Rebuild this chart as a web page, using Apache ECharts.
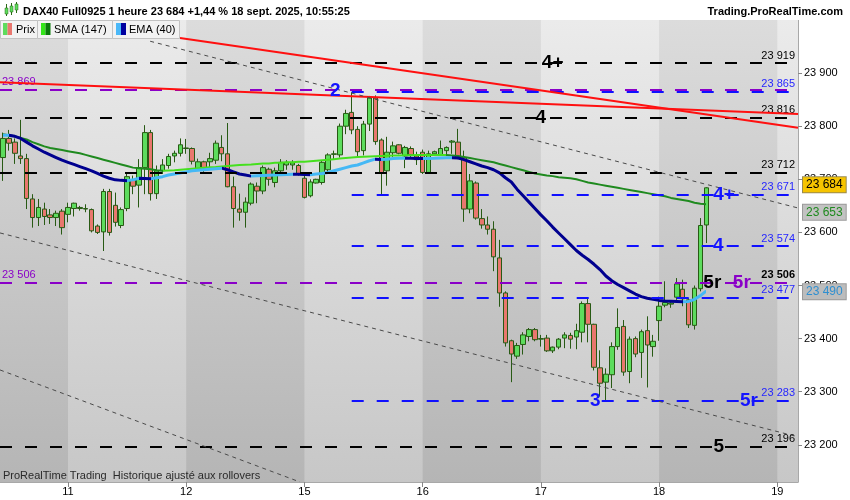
<!DOCTYPE html>
<html><head><meta charset="utf-8">
<script src="https://cdn.jsdelivr.net/npm/echarts@6/dist/echarts.min.js"></script>
<style>html,body{margin:0;padding:0;background:#fff}#c{width:850px;height:500px}</style>
</head><body><div id="c"></div>
<script>
// ---------- data ----------
const days = [10, 11, 12, 15, 16, 17, 18, 19];
const barsPerDay = [11, 20, 20, 20, 20, 20, 20, 4];
const opens = [23741,23777,23770,23744,23739,23663,23628,23644,23633,23628,23640,
 23634,23645,23645,23644,23643,23612,23601,23677,23651,23613,23645,23699,23689,23722,23788,23673,23716,23726,23744,23749,
 23758,23758,23720,23733,23733,23736,23760,23748,23686,23644,23638,23655,23687,23678,23719,23694,23716,23727,23727,23726,
 23702,23669,23693,23694,23718,23747,23746,23800,23826,23794,23754,23804,23853,23774,23716,23750,23765,23744,23758,23744,
 23751,23713,23748,23746,23754,23770,23770,23741,23644,23693,23626,23614,23606,23552,23486,23396,23367,23389,23404,23417,
 23399,23401,23377,23384,23401,23406,23403,23412,23466,23427,23345,23318,23332,23385,23423,23338,23400,23374,23415,23385,
 23434,23463,23465,23478,23493,23473,23425,23494,23614];
const closes = [23777,23768,23749,23739,23664,23628,23647,23630,23628,23636,23609,
 23647,23655,23647,23645,23603,23600,23677,23600,23619,23643,23705,23687,23722,23788,23673,23716,23727,23743,23749,23765,
 23759,23734,23733,23721,23739,23768,23748,23686,23645,23638,23657,23691,23678,23722,23700,23716,23732,23732,23731,23710,
 23666,23695,23700,23732,23746,23748,23800,23824,23793,23752,23804,23853,23771,23712,23751,23763,23749,23760,23746,23737,
 23713,23748,23752,23758,23760,23772,23741,23644,23697,23627,23614,23606,23554,23486,23392,23371,23387,23407,23417,23398,
 23400,23377,23384,23399,23407,23399,23415,23466,23427,23346,23316,23333,23385,23421,23337,23399,23371,23413,23388,23395,
 23461,23468,23467,23503,23475,23426,23495,23613,23684];
const lows = [23697,23754,23729,23729,23644,23609,23612,23614,23616,23612,23596,
 23619,23630,23641,23638,23600,23597,23565,23594,23611,23608,23640,23672,23647,23672,23660,23663,23710,23720,23732,23743,
 23748,23728,23716,23714,23722,23729,23734,23685,23609,23622,23609,23651,23655,23672,23688,23685,23713,23718,23718,23707,
 23664,23666,23692,23690,23713,23738,23741,23785,23785,23741,23745,23791,23765,23671,23688,23742,23747,23721,23740,23727,
 23710,23712,23744,23744,23744,23748,23738,23620,23636,23624,23607,23596,23527,23460,23385,23318,23362,23370,23395,23395,
 23385,23375,23373,23380,23382,23381,23380,23393,23393,23340,23291,23284,23307,23379,23330,23316,23365,23326,23308,23366,
 23396,23459,23458,23473,23461,23420,23417,23489,23580];
const highs = [23788,23793,23777,23812,23748,23672,23663,23656,23644,23641,23644,
 23656,23656,23650,23653,23645,23615,23682,23682,23675,23647,23710,23707,23738,23802,23793,23726,23738,23748,23754,23777,
 23776,23760,23739,23735,23750,23773,23783,23806,23705,23673,23666,23694,23694,23726,23722,23722,23738,23736,23736,23729,
 23707,23700,23701,23735,23749,23754,23805,23831,23864,23800,23810,23857,23858,23777,23780,23771,23766,23763,23762,23752,
 23756,23754,23754,23773,23762,23774,23795,23754,23710,23696,23644,23630,23621,23586,23489,23398,23392,23412,23420,23420,
 23407,23407,23385,23401,23412,23411,23428,23470,23475,23428,23378,23344,23393,23457,23435,23404,23404,23417,23442,23407,
 23479,23508,23469,23514,23511,23476,23500,23627,23685];
const sma147 = [23785,23783,23781,23778,23775,23770,23766,23762,23759,23757,23755,23753,23751,23749,23746,23743,23740,23737,23734,23731,23728,23725,23722,
 23721,23720,23719,23717,23716,23716.5,23717,23718,23719,23720,23721,23722,23722.5,23723,23724,23725,23726,23727,23727.5,23728,23729,23730,
 23730,23731,23731,23732,23732,23733,23733,23734,23735,23736,23737,23738,23739,23740,23741,23742,23742.5,23743,23743.5,23744,23744.5,23745,
 23745,23745.5,23745.5,23746,23746,23746,23746,23746,23746,23745,
 23744,23742,23740,23738,23736,23734,23732,23729,23726,23723,23720,23717,23714,23711,23709,23707,23706,23704,23703,23702,23700,23697,23694,
 23692,23690,23688,23686,23684,23682,23680,23678,23676,23674,23672,23670,23668,23665,23663,23661,23659,23656,23654,23653];
const ema40 = [23783,23783,23781,23777,23770,23763,23757,23751,23746,23741,23736,23732,23728,23724,23720,23716,23711,23706,23702,23699,23698,23697.5,23699,
 23702,23701.5,23701,23703,23705,23708,23710,23712,23714,23716,23717,23718,23719,23720,23721,23718,23714,23710,23708,23706,23706.5,23707,
 23707.5,23708,23708.5,23709,23709.5,23709.3,23709,23708.8,23710,23711,23713,23716,23719,23722,23725,23727,23731,23735,23738,23737.5,23738,23739,
 23739.5,23739.8,23739.5,23739.2,23739,23739.3,23739.6,23740,23740.4,23740.8,23740,
 23737,23733,23729,23725,23722,23718,23712,23703,23695,23681,23669,23657,23645,23633,23622,23610,23599,23588,23577,23566,
 23557,23549,23540,23530,23518,23509,23502,23496,23490,23484,23479,23476,23474,
 23472,23471,23470.5,23470,23469.5,23470,23474,23481,23490];
const yMin = 23130, yMax = 24000;
const blackLevels = [23919, 23816, 23712, 23196];
const purpleLevels = [23869, 23506];
const blueLevels = [23865, 23671, 23574, 23477, 23283];
const blueLevelsFromBar = 59;
const redTrends = [[[-0.5, 23883], [134.5, 23823]], [[29.95, 23966], [134.5, 23797]]];
const dottedTrends = [[[24.9, 23960], [134.5, 23646]], [[-0.5, 23599], [134.5, 23215]], [[-0.5, 23341], [50.25, 23130]]];
const blackWaves = [['4+', 93.0, 23919], ['4', 91.0, 23816], ['5r', 120.0, 23506], ['5', 121.1, 23196]];
const blueWaves = [['2', 56.2, 23866], ['4+', 122.0, 23671], ['4', 121.0, 23574], ['3', 100.2, 23283], ['5r', 126.2, 23283]];
const purpleWaves = [['5r', 125.0, 23506]];

// ---------- derived ----------
const categories = [];
const dayStart = new Set();
const dayRanges = [];
days.forEach((d, k) => {
  const s = categories.length;
  if (s > 0) dayStart.add(s);
  for (let j = 0; j < barsPerDay[k]; j++) categories.push(d + '|' + j);
  dayRanges.push([s, categories.length]);
});
const nSlots = categories.length;
const xMax = nSlots - 0.5;
const candles = opens.map((o, i) => [o, closes[i], lows[i], highs[i]]);
const fmt = v => String(Math.round(v)).replace(/\B(?=(\d{3})+(?!\d))/g, ' ');
const FONT = '"Liberation Sans", Arial, sans-serif';
const CLEAR = 'rgba(0,0,0,0)';

function slopePieces(vals, up, down) {
  const pieces = []; let start = 0; let cur = null;
  for (let i = 0; i < vals.length - 1; i++) {
    const c = vals[i + 1] >= vals[i] ? up : down;
    if (cur === null) cur = c;
    if (c !== cur) { pieces.push({gte: start, lt: i, color: cur}); start = i; cur = c; }
  }
  pieces.push({gte: start, lte: vals.length - 1, color: cur});
  return pieces;
}

const BLACK = '#000000', BLUE = '#1010ff', PURPLE = '#8a00c8';
const dash = [12, 13];
function levelItem(v, x1, color, labelCfg) {
  return [{coord: [x1, v], lineStyle: {color: color, width: 2, type: dash}, label: labelCfg}, {coord: [xMax, v]}];
}
const rightLabel = (v, color, bold) => ({show: true, position: 'insideEndTop', formatter: fmt(v), color: color, fontSize: 11, fontFamily: FONT, fontWeight: bold ? 'bold' : 'normal', distance: [3, 2]});
const leftLabel = (v, color) => ({show: true, position: 'insideStartTop', formatter: fmt(v), color: color, fontSize: 11, fontFamily: FONT, distance: [2, 2]});

const levelData = [];
blackLevels.forEach(v => levelData.push(levelItem(v, -0.5, BLACK, rightLabel(v, '#000'))));
purpleLevels.forEach(v => levelData.push(levelItem(v, -0.5, PURPLE, leftLabel(v, PURPLE))));
blueLevels.forEach(v => levelData.push(levelItem(v, blueLevelsFromBar, BLUE, rightLabel(v, '#2626ff'))));
levelData.push([{coord: [-0.5, purpleLevels[1]], lineStyle: {color: CLEAR, width: 1}, label: rightLabel(purpleLevels[1], '#000', true)}, {coord: [xMax, purpleLevels[1]]}]);

const bandData = dayRanges.filter((r, k) => k % 2 === 1).map(r => [
  {xAxis: r[0], itemStyle: {color: new echarts.graphic.LinearGradient(0, 0, 0, 1, [{offset: 0, color: '#ebebeb'}, {offset: 1, color: '#c7c7c7'}])}},
  {xAxis: Math.min(r[1], xMax)}
]);

function waveSeries(list, color) {
  return {
    type: 'scatter', xAxisIndex: 1, yAxisIndex: 0, symbolSize: 1, z: 10, silent: true,
    itemStyle: {color: CLEAR},
    emphasis: {disabled: true},
    data: list.map(w => ({name: w[0], value: [w[1], w[2]]})),
    label: {show: true, position: 'inside', formatter: p => p.name, color: color, opacity: 1,
      textBorderWidth: 0, textBorderColor: CLEAR, textShadowBlur: 0,
      fontSize: 19, fontWeight: 'bold', fontFamily: FONT}
  };
}
function trendSeries(pts, color, width, type) {
  return {type: 'line', xAxisIndex: 1, yAxisIndex: 0, data: pts, symbol: 'none', silent: true, z: 6,
    lineStyle: {color: color, width: width, type: type}};
}
const tag = (v, bg, border, color, dy) => ({
  symbol: 'none', silent: true,
  lineStyle: {color: CLEAR, width: 1, type: 'solid'},
  data: [{yAxis: v, label: {show: true, position: 'end', distance: 5, formatter: fmt(v), backgroundColor: bg, borderColor: border, borderWidth: 1, padding: [2, 3, 1, 3], color: color, fontSize: 12, fontFamily: FONT, offset: [0, dy]}}]
});

const smaColors = slopePieces(sma147, '#45e01e', '#1f8a1f');
const emaColors = slopePieces(ema40, '#45b8f5', '#00008f');

const chart = echarts.init(document.getElementById('c'), null, {renderer: 'canvas'});
const option = {
  animation: false,
  backgroundColor: '#ffffff',
  textStyle: {fontFamily: FONT},
  grid: {left: 0, right: 52, top: 20, bottom: 18, containLabel: false, outerBoundsMode: 'none', show: true, borderWidth: 0,
    backgroundColor: new echarts.graphic.LinearGradient(0, 0, 0, 1, [{offset: 0, color: '#dcdcdc'}, {offset: 1, color: '#b5b5b5'}])},
  xAxis: [
    {type: 'category', data: categories, boundaryGap: true,
      axisLine: {show: true, onZero: false, lineStyle: {color: '#a8a8a8'}},
      axisTick: {show: true, interval: (i) => dayStart.has(i), alignWithLabel: true, length: 5, lineStyle: {color: '#888'}},
      axisLabel: {interval: (i) => dayStart.has(i), formatter: v => v.split('|')[0], color: '#000', fontSize: 11, margin: 4, fontFamily: FONT},
      splitLine: {show: false}},
    {type: 'value', min: -0.5, max: xMax, show: false, axisLine: {onZero: false}, splitLine: {show: false}}
  ],
  yAxis: [{type: 'value', position: 'right', min: yMin, max: yMax, splitNumber: 9, scale: true,
    axisLine: {show: true, onZero: false, lineStyle: {color: '#a8a8a8'}},
    axisTick: {show: true, length: 4, lineStyle: {color: '#888'}},
    axisLabel: {formatter: fmt, color: '#000', fontSize: 11, margin: 6, showMinLabel: false, showMaxLabel: false, fontFamily: FONT},
    splitLine: {show: false}}],
  visualMap: [
    {show: false, type: 'piecewise', seriesIndex: 2, dimension: 0, pieces: smaColors},
    {show: false, type: 'piecewise', seriesIndex: 3, dimension: 0, pieces: emaColors}
  ],
  series: [
    {type: 'line', xAxisIndex: 1, yAxisIndex: 0, data: [[xMax, yMin]], symbol: 'none', lineStyle: {width: 0}, silent: true, z: 1,
      markArea: {silent: true, data: bandData}},
    {type: 'candlestick', xAxisIndex: 0, yAxisIndex: 0, data: candles, barWidth: 5, z: 3,
      itemStyle: {color: '#5ddc5d', color0: '#e9776e', borderColor: '#285a14', borderColor0: '#285a14', borderWidth: 1},
      markLine: tag(closes[closes.length - 1], '#f6c400', '#9a8a50', '#000', -3)},
    {type: 'line', xAxisIndex: 1, yAxisIndex: 0, data: sma147.map((v, i) => [i, v]), symbol: 'none', z: 4, silent: true,
      lineStyle: {width: 2},
      markLine: tag(sma147[sma147.length - 1], '#c2c2c2', '#9a9a9a', '#1f8a1f', 8)},
    {type: 'line', xAxisIndex: 1, yAxisIndex: 0, data: ema40.map((v, i) => [i, v]), symbol: 'none', z: 4, silent: true,
      lineStyle: {width: 3},
      markLine: tag(ema40[ema40.length - 1], '#bcbcbc', '#9a9a9a', '#2f8fd0', 1)},
    {type: 'line', xAxisIndex: 1, yAxisIndex: 0, data: [[xMax, yMin]], symbol: 'none', lineStyle: {width: 0}, silent: true, z: 5,
      markLine: {symbol: 'none', silent: true, data: levelData}},
    ...redTrends.map(t => trendSeries(t, '#ff1010', 2, 'solid')),
    ...dottedTrends.map(t => trendSeries(t, '#4a4a4a', 1, [4, 4])),
    waveSeries(blackWaves, '#000000'),
    waveSeries(blueWaves, '#1414ff'),
    waveSeries(purpleWaves, PURPLE)
  ],
  graphic: [
    {type: 'rect', shape: {x: 0, y: 0, width: 850, height: 20}, style: {fill: '#ffffff'}, z: 100},
    {type: 'rect', shape: {x: 6, y: 4, width: 1, height: 12}, style: {fill: '#2a6a14'}, z: 101},
    {type: 'rect', shape: {x: 5, y: 8, width: 3, height: 6}, style: {fill: '#5ddc5d', stroke: '#2a6a14', lineWidth: 0.5}, z: 101},
    {type: 'rect', shape: {x: 11, y: 3, width: 1, height: 12}, style: {fill: '#2a6a14'}, z: 101},
    {type: 'rect', shape: {x: 10, y: 6, width: 3, height: 6}, style: {fill: '#5ddc5d', stroke: '#2a6a14', lineWidth: 0.5}, z: 101},
    {type: 'rect', shape: {x: 16, y: 2, width: 1, height: 11}, style: {fill: '#2a6a14'}, z: 101},
    {type: 'rect', shape: {x: 15, y: 4, width: 3, height: 6}, style: {fill: '#5ddc5d', stroke: '#2a6a14', lineWidth: 0.5}, z: 101},
    {type: 'text', z: 101, style: {x: 23, y: 12, text: 'DAX40 Full0925 1 heure 23 684 +1,44 % 18 sept. 2025, 10:55:25', font: 'bold 11px ' + FONT, fill: '#000', textAlign: 'left', align: 'left', textVerticalAlign: 'middle', verticalAlign: 'middle'}},
    {type: 'text', z: 101, style: {x: 843, y: 12, text: 'Trading.ProRealTime.com', font: 'bold 11px ' + FONT, fill: '#000', textAlign: 'right', align: 'right', textVerticalAlign: 'middle', verticalAlign: 'middle'}},
    {type: 'rect', z: 101, shape: {x: 0.5, y: 20.5, width: 37, height: 18}, style: {fill: '#f2f2f2', stroke: '#c2c2c2', lineWidth: 1}},
    {type: 'rect', z: 101, shape: {x: 37.5, y: 20.5, width: 75, height: 18}, style: {fill: '#f2f2f2', stroke: '#c2c2c2', lineWidth: 1}},
    {type: 'rect', z: 101, shape: {x: 112.5, y: 20.5, width: 67, height: 18}, style: {fill: '#f2f2f2', stroke: '#c2c2c2', lineWidth: 1}},
    {type: 'rect', z: 102, shape: {x: 3, y: 23, width: 4.5, height: 12}, style: {fill: '#5ddc5d'}},
    {type: 'rect', z: 102, shape: {x: 7.5, y: 23, width: 4.5, height: 12}, style: {fill: '#e9776e'}},
    {type: 'rect', z: 102, shape: {x: 41, y: 23, width: 4.5, height: 12}, style: {fill: '#33e619'}},
    {type: 'rect', z: 102, shape: {x: 45.5, y: 23, width: 5, height: 12}, style: {fill: '#0a7a0a'}},
    {type: 'rect', z: 102, shape: {x: 116, y: 23, width: 5, height: 12}, style: {fill: '#4ab8f8'}},
    {type: 'rect', z: 102, shape: {x: 121, y: 23, width: 5, height: 12}, style: {fill: '#0000a0'}},
    {type: 'text', z: 102, style: {x: 16, y: 30, text: 'Prix', font: '11px ' + FONT, fill: '#000', textAlign: 'left', align: 'left', textVerticalAlign: 'middle', verticalAlign: 'middle'}},
    {type: 'text', z: 102, style: {x: 54, y: 30, text: 'SMA (147)', font: '11px ' + FONT, fill: '#000', textAlign: 'left', align: 'left', textVerticalAlign: 'middle', verticalAlign: 'middle'}},
    {type: 'text', z: 102, style: {x: 129, y: 30, text: 'EMA (40)', font: '11px ' + FONT, fill: '#000', textAlign: 'left', align: 'left', textVerticalAlign: 'middle', verticalAlign: 'middle'}},
    {type: 'text', z: 102, style: {x: 3, y: 476, text: 'ProRealTime Trading  Historique ajusté aux rollovers', font: '11px ' + FONT, fill: '#2a2a2a', textAlign: 'left', align: 'left', textVerticalAlign: 'middle', verticalAlign: 'middle'}}
  ]
};
chart.setOption(option);
</script>
</body></html>
